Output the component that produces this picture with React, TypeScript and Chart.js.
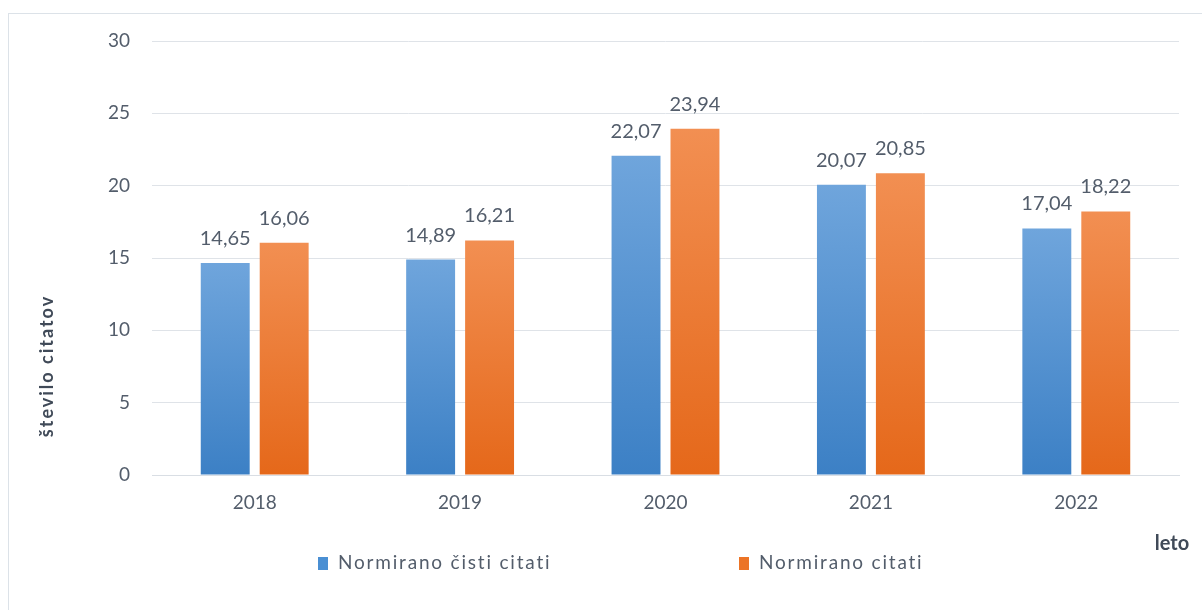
import React, { useEffect, useRef } from "react";
import { Chart, registerables } from "chart.js";

Chart.register(...registerables);

const years = ["2018", "2019", "2020", "2021", "2022"];
const cistiCitati = [14.65, 14.89, 22.07, 20.07, 17.04];
const citati = [16.06, 16.21, 23.94, 20.85, 18.22];
const seriesNames = ["Normirano čisti citati", "Normirano citati"];
const yTitle = "število citatov";
const xTitle = "leto";

const FONT = "Lato, 'Open Sans', sans-serif";
const TEXT = "#535d6b";

function gradientFor(top: string, bottom: string) {
  return (ctx: any) => {
    const chart = ctx.chart;
    const y = chart.scales && chart.scales.y;
    if (!chart.chartArea || !y || typeof ctx.raw !== "number") return bottom;
    const yTop = y.getPixelForValue(ctx.raw);
    const yBot = y.getPixelForValue(0);
    if (!isFinite(yTop) || !isFinite(yBot) || yTop === yBot) return bottom;
    const g = chart.ctx.createLinearGradient(0, yTop, 0, yBot);
    g.addColorStop(0, top);
    g.addColorStop(1, bottom);
    return g;
  };
}

const labelsPlugin = {
  id: "valueLabels",
  afterDatasetsDraw(chart: any) {
    const c = chart.ctx;
    c.save();
    c.font = `20px ${FONT}`;
    c.fillStyle = TEXT;
    c.textAlign = "center";
    c.textBaseline = "alphabetic";
    chart.data.datasets.forEach((ds: any, i: number) => {
      const meta = chart.getDatasetMeta(i);
      meta.data.forEach((el: any, j: number) => {
        const v = ds.data[j] as number;
        c.fillText(v.toFixed(2).replace(".", ","), el.x, el.y - 18);
      });
    });
    c.restore();
  },
};

const extrasPlugin = {
  id: "extras",
  afterDraw(chart: any) {
    const c = chart.ctx;
    c.save();
    // y axis title
    c.translate(47, 366);
    c.rotate(-Math.PI / 2);
    c.font = `bold 18px ${FONT}`;
    (c as any).letterSpacing = "2px";
    c.fillStyle = "#404a58";
    c.textAlign = "center";
    c.textBaseline = "middle";
    c.fillText(yTitle, 0, 0);
    c.restore();

    c.save();
    c.font = `bold 20px ${FONT}`;
    c.fillStyle = "#404a58";
    c.textAlign = "center";
    c.textBaseline = "middle";
    c.fillText(xTitle, 1172, 544);
    c.restore();

    // legend
    const items = [
      { x: 318, color: "#4a8fd3", text: seriesNames[0] },
      { x: 739, color: "#ec7426", text: seriesNames[1] },
    ];
    c.save();
    c.font = `19px ${FONT}`;
    (c as any).letterSpacing = "1.8px";
    c.textBaseline = "middle";
    c.textAlign = "left";
    items.forEach((it) => {
      c.fillStyle = it.color;
      c.fillRect(it.x, 557, 10, 13);
      c.fillStyle = TEXT;
      c.fillText(it.text, it.x + 20, 563);
    });
    c.restore();
  },
};

export default function App() {
  const ref = useRef<HTMLCanvasElement | null>(null);

  useEffect(() => {
    if (!ref.current) return;
    const chart = new Chart(ref.current, {
      type: "bar",
      data: {
        labels: years,
        datasets: [
          {
            label: seriesNames[0],
            data: cistiCitati,
            backgroundColor: gradientFor("#6fa5dc", "#3c80c5"),
            barPercentage: 0.83,
            categoryPercentage: 0.574,
          },
          {
            label: seriesNames[1],
            data: citati,
            backgroundColor: gradientFor("#f28f52", "#e5681a"),
            barPercentage: 0.83,
            categoryPercentage: 0.574,
          },
        ],
      },
      options: {
        responsive: false,
        animation: false,
        layout: { padding: { top: 41, right: 23, left: 0, bottom: 0 } },
        plugins: {
          legend: { display: false },
          tooltip: { enabled: false },
          title: { display: false },
        },
        scales: {
          x: {
            grid: { display: false, drawTicks: false },
            border: { display: true, color: "#d9dee4", width: 1 },
            ticks: {
              color: TEXT,
              font: { family: FONT, size: 19 },
              padding: 16,
            },
            afterFit: (s: any) => {
              s.height = 135;
            },
          },
          y: {
            min: 0,
            max: 30,
            ticks: {
              stepSize: 5,
              color: TEXT,
              font: { family: FONT, size: 19 },
              padding: 22,
            },
            grid: { color: "#dfe3e8", drawTicks: false, lineWidth: 1 },
            border: { display: false },
            afterFit: (s: any) => {
              s.width = 152;
            },
          },
        },
      },
      plugins: [labelsPlugin, extrasPlugin],
    });
    return () => chart.destroy();
  }, []);

  return (
    <div
      style={{
        position: "fixed",
        left: 0,
        top: 0,
        width: 1202,
        height: 610,
        overflow: "hidden",
        background: "#fff",
      }}
    >
      <div
        style={{
          position: "absolute",
          left: 8,
          top: 13,
          width: 1300,
          height: 700,
          borderLeft: "1px solid #dce2e8",
          borderTop: "1px solid #dce2e8",
        }}
      />
      <canvas
        ref={ref}
        width={1202}
        height={610}
        style={{ position: "absolute", left: 0, top: 0 }}
      />
    </div>
  );
}
